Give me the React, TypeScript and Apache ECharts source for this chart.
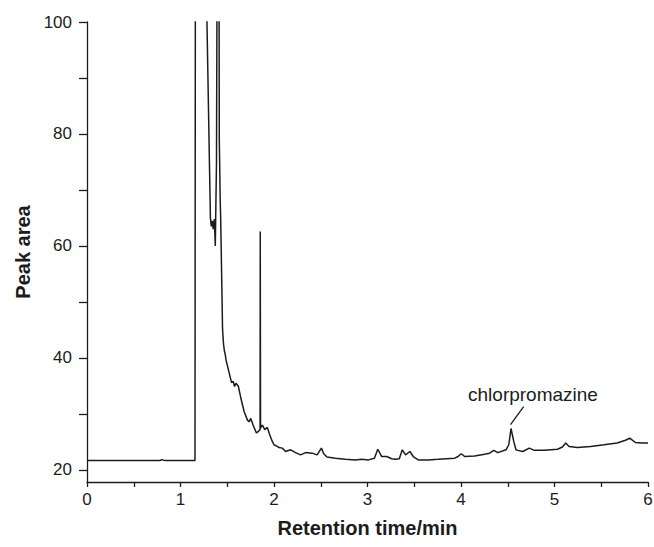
import React, { useEffect, useRef } from "react";
import * as echarts from "echarts";

const times = [
  0, 0.78, 0.8, 0.82, 0.85, 1.155, 1.16, 1.27, 1.283, 1.32, 1.33, 1.34, 1.35, 1.362, 1.372, 1.385,
  1.395, 1.41, 1.415, 1.425, 1.43, 1.447, 1.449, 1.452, 1.46, 1.47, 1.479, 1.486, 1.521, 1.546,
  1.564, 1.578, 1.593, 1.62, 1.646, 1.681, 1.716, 1.734, 1.752, 1.777, 1.812, 1.833, 1.851, 1.853,
  1.856, 1.876, 1.901, 1.929, 1.954, 1.982, 2.0, 2.035, 2.053, 2.088, 2.124, 2.178, 2.231, 2.284,
  2.337, 2.407, 2.461, 2.507, 2.532, 2.567, 2.656, 2.763, 2.869, 2.939, 3.011, 3.074, 3.11, 3.152,
  3.205, 3.259, 3.3, 3.34, 3.372, 3.407, 3.454, 3.489, 3.543, 3.649, 3.755, 3.933, 3.968, 4.003,
  4.039, 4.146, 4.252, 4.305, 4.351, 4.394, 4.482, 4.511, 4.535, 4.564, 4.588, 4.606, 4.66, 4.731,
  4.784, 4.89, 5.032, 5.085, 5.12, 5.156, 5.245, 5.386, 5.529, 5.67, 5.759, 5.805, 5.865, 5.936, 6.0,
];

const peakArea = [
  21.7, 21.7, 21.85, 21.75, 21.7, 21.7, 130, 130, 100, 65, 63.5, 64.5, 63, 64.8, 60.0, 75,
  130, 130, 79, 68, 64.7, 48, 45.6, 44.5, 42.5, 41.2, 40.6, 39.7, 37.3, 35.6,
  35.8, 34.9, 35.5, 34.9, 32.8, 30.4, 28.9, 28.6, 29.2, 28.0, 26.6, 26.9, 27.2, 62.6,
  27.5, 28.0, 27.2, 27.6, 26.3, 25.1, 24.5, 24.2, 24.0, 23.9, 23.3, 23.6, 23.1, 22.7,
  23.1, 23.0, 22.7, 23.9, 22.9, 22.3, 22.1, 21.9, 21.8, 21.9, 21.8, 22.1, 23.7, 22.4,
  22.4, 22.0, 21.9, 22.0, 23.6, 22.7, 23.3, 22.4, 21.8, 21.8, 21.9, 22.1, 22.4, 22.9,
  22.4, 22.5, 22.8, 23.0, 23.5, 23.1, 23.6, 24.5, 27.4, 25.1, 23.6, 23.5, 23.3, 23.9,
  23.5, 23.5, 23.7, 24.1, 24.8, 24.2, 24.0, 24.2, 24.5, 24.8, 25.3, 25.7, 24.9, 24.8, 24.8,
];

const yTicks = [20, 30, 40, 50, 60, 70, 80, 90, 100];
const yLabels = [20, 40, 60, 80, 100];
const xLabels = [0, 1, 2, 3, 4, 5, 6];
const annotationText = "chlorpromazine";
const annotationLine = [
  [4.53, 28.1],
  [4.67, 31.3],
];
const annotationPos = [4.77, 33.5];

const FONT = "'Liberation Sans', Arial, sans-serif";
const INK = "#1c1c1c";

export default function App() {
  const ref = useRef<HTMLDivElement>(null);
  useEffect(() => {
    if (!ref.current) return;
    const chart = echarts.init(ref.current, null, { renderer: "svg" });
    const data = times.map((t, i) => [t, peakArea[i]]);
    chart.setOption({
      animation: false,
      backgroundColor: "#ffffff",
      grid: { left: 87, right: 6, top: 22, bottom: 65, outerBoundsMode: "none", containLabel: false },
      xAxis: {
        type: "value",
        min: 0,
        max: 6,
        interval: 0.5,
        name: "Retention time/min",
        nameLocation: "middle",
        nameGap: 36,
        nameTextStyle: { fontFamily: FONT, fontWeight: "bold", fontSize: 20, color: INK },
        axisLine: { show: true, lineStyle: { color: INK, width: 1.3 } },
        axisTick: { show: true, inside: false, length: 5, lineStyle: { color: INK, width: 1.3 } },
        axisLabel: {
          fontFamily: FONT,
          fontSize: 17,
          color: INK,
          margin: 9,
          formatter: (v: number) => (xLabels.includes(v) ? String(v) : ""),
        },
        splitLine: { show: false },
      },
      yAxis: {
        type: "value",
        min: 17.85,
        max: 100,
        name: "Peak area",
        nameLocation: "middle",
        nameGap: 53,
        nameTextStyle: { fontFamily: FONT, fontWeight: "bold", fontSize: 20, color: INK },
        axisLine: { show: true, lineStyle: { color: INK, width: 1.3 } },
        axisTick: {
          show: true,
          inside: false,
          length: 8,
          customValues: yTicks,
          lineStyle: { color: INK, width: 1.3 },
        },
        axisLabel: {
          fontFamily: FONT,
          fontSize: 17,
          color: INK,
          margin: 15,
          customValues: yLabels,
        },
        splitLine: { show: false },
      },
      series: [
        {
          type: "line",
          data,
          showSymbol: false,
          clip: true,
          lineStyle: { color: INK, width: 1.5 },
          markLine: {
            silent: true,
            symbol: ["none", "none"],
            label: { show: false },
            lineStyle: { color: INK, width: 1.3, type: "solid" },
            data: [[{ coord: annotationLine[0] }, { coord: annotationLine[1] }]],
          },
          markPoint: {
            silent: true,
            symbol: "circle",
            symbolSize: 0,
            label: {
              show: true,
              formatter: annotationText,
              fontFamily: FONT,
              fontSize: 19,
              color: INK,
              position: "inside",
            },
            data: [{ coord: annotationPos }],
          },
        },
      ],
    });
    return () => chart.dispose();
  }, []);
  return <div ref={ref} style={{ width: 654, height: 547, position: "absolute", left: 0, top: 0 }} />;
}
